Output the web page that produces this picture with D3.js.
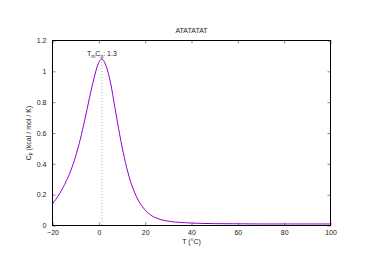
<!DOCTYPE html>
<html>
<head>
<meta charset="utf-8">
<script src="https://cdn.jsdelivr.net/npm/d3@7"></script>
<style>
  body { margin: 0; background: #fff; }
  text { font-family: "Liberation Sans", Arial, sans-serif; fill: #222; }
</style>
</head>
<body>
<div class="container"></div>
<script>
const temps = [-20, -17, -14, -12, -10, -8, -6, -4, -2, -0.5, 1.3, 3, 5, 7, 9, 11, 13, 15, 17, 20, 22, 26, 31, 40, 50, 60, 70, 80, 90, 100];
const cpVals = [0.14, 0.205, 0.29, 0.36, 0.45, 0.56, 0.69, 0.83, 0.96, 1.04, 1.08, 1.04, 0.93, 0.76, 0.59, 0.44, 0.32, 0.23, 0.165, 0.10, 0.072, 0.042, 0.026, 0.016, 0.012, 0.011, 0.010, 0.010, 0.010, 0.010];
const xTicks = [-20, 0, 20, 40, 60, 80, 100];
const yTicks = [0, 0.2, 0.4, 0.6, 0.8, 1, 1.2];
const tm = 1.3;
const tmPeak = 1.08;
const title = "ATATATAT";

const margin = {top: 40.5, right: 43.5, bottom: 38.5, left: 52.5};
const width = 374 - margin.left - margin.right;
const height = 264 - margin.top - margin.bottom;

const svg = d3.select(".container")
  .append("svg")
    .attr("width", 374)
    .attr("height", 264)
  .append("g")
    .attr("transform", "translate(" + margin.left + "," + margin.top + ")");

const x = d3.scaleLinear().domain([-20, 100]).range([0, width]);
const y = d3.scaleLinear().domain([0, 1.2]).range([height, 0]);

const tickLen = 3;

// bottom + top ticks (inward)
svg.append("g")
  .attr("transform", "translate(0," + height + ")")
  .call(d3.axisBottom(x).tickValues(xTicks).tickSize(-tickLen).tickPadding(5).tickFormat(d3.format("d")))
  .call(g => g.select(".domain").remove())
  .call(g => g.selectAll("line").attr("stroke", "#888"))
  .call(g => g.selectAll("text").attr("font-size", 7).attr("fill", "#222"));

svg.append("g")
  .call(d3.axisTop(x).tickValues(xTicks).tickSize(-tickLen).tickFormat(""))
  .call(g => g.select(".domain").remove())
  .call(g => g.selectAll("line").attr("stroke", "#888"));

// left + right ticks
svg.append("g")
  .call(d3.axisLeft(y).tickValues(yTicks).tickSize(-tickLen).tickPadding(6).tickFormat(d3.format("")))
  .call(g => g.select(".domain").remove())
  .call(g => g.selectAll("line").attr("stroke", "#888"))
  .call(g => g.selectAll("text").attr("font-size", 7).attr("fill", "#222"));

svg.append("g")
  .attr("transform", "translate(" + width + ",0)")
  .call(d3.axisRight(y).tickValues(yTicks).tickSize(-tickLen).tickFormat(""))
  .call(g => g.select(".domain").remove())
  .call(g => g.selectAll("line").attr("stroke", "#888"));

// Tm marker
svg.append("line")
  .attr("x1", x(tm)).attr("x2", x(tm))
  .attr("y1", y(tmPeak)).attr("y2", height)
  .attr("stroke", "#999")
  .attr("stroke-width", 0.8)
  .attr("stroke-dasharray", "1,2");

const data = temps.map((t, i) => ({t: t, cp: cpVals[i]}));

svg.append("path")
  .datum(data)
  .attr("fill", "none")
  .attr("stroke", "#9400d3")
  .attr("stroke-width", 1)
  .attr("d", d3.line()
    .x(d => x(d.t))
    .y(d => y(d.cp))
    .curve(d3.curveMonotoneX));

// frame
svg.append("rect")
  .attr("width", width)
  .attr("height", height)
  .attr("fill", "none")
  .attr("stroke", "#000")
  .attr("stroke-width", 1);

const lbl = svg.append("text")
  .attr("x", x(tm))
  .attr("y", y(tmPeak) - 3)
  .attr("text-anchor", "middle")
  .attr("font-size", 7);
lbl.append("tspan").text("T");
lbl.append("tspan").attr("font-size", 5).attr("dy", 1.5).text("m");
lbl.append("tspan").attr("dy", -1.5).text("C");
lbl.append("tspan").attr("font-size", 5).attr("dy", 1.5).text("p");
lbl.append("tspan").attr("dy", -1.5).text(": 1.3");

svg.append("text")
  .attr("x", width / 2)
  .attr("y", -8)
  .attr("text-anchor", "middle")
  .attr("font-size", 7)
  .text(title);

svg.append("text")
  .attr("x", width / 2)
  .attr("y", height + 18)
  .attr("text-anchor", "middle")
  .attr("font-size", 7)
  .text("T (°C)");

const yl = svg.append("text")
  .attr("transform", "translate(-22," + (height / 2) + ") rotate(-90)")
  .attr("text-anchor", "middle")
  .attr("font-size", 7);
yl.append("tspan").text("C");
yl.append("tspan").attr("font-size", 5).attr("dy", 1.5).text("p");
yl.append("tspan").attr("dy", -1.5).text(" (kcal / mol / K)");
</script>
</body>
</html>
